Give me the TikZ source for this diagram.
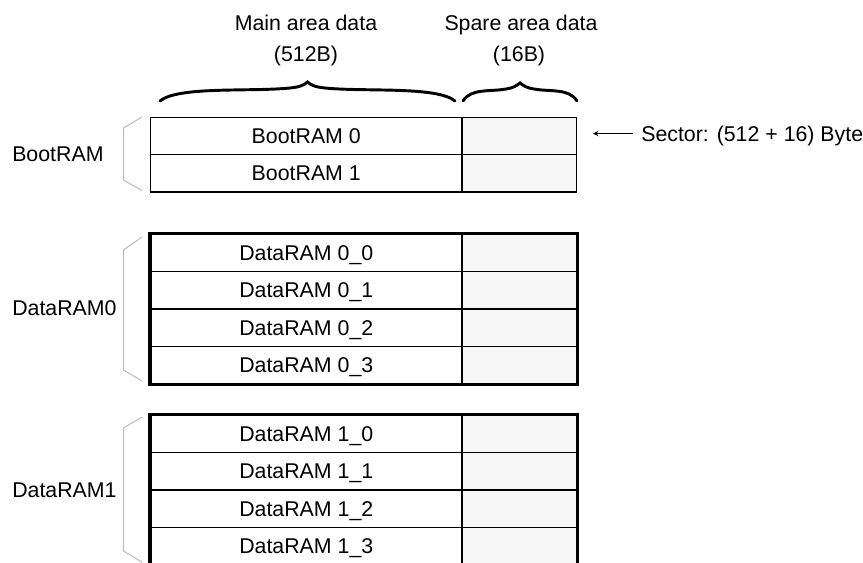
\documentclass[tikz,border=0pt]{standalone}
\usepackage{fontspec}
\setmainfont{Liberation Sans}
\usepackage{tikz}
\usepackage{xcolor}
\definecolor{sparefill}{HTML}{F6F6F6}
\definecolor{bracketgray}{HTML}{BEBEBE}
\tikzset{ecell/.style={draw,line width=0.8pt,inner sep=0pt,anchor=north west,minimum width=233.6pt,minimum height=28.1pt,text height=11.5pt,text depth=0pt}}
\tikzset{espare/.style={ecell,fill=sparefill,minimum width=85.9pt}}
\tikzset{ebank/.style={line width=2.3pt}}
\tikzset{ebracket/.style={bracketgray,line width=0.8pt}}
\tikzset{ebrace/.style={line width=2.2pt,line cap=round}}
\tikzset{elabel/.style={inner sep=0pt,text height=11.5pt,text depth=0pt}}
\tikzset{earrow/.style={->,>=stealth,line width=0.8pt}}

\begin{document}
\begin{tikzpicture}[x=0.75pt,y=-0.75pt,font=\fontsize{16}{19}\selectfont]
            \useasboundingbox (0,0) rectangle (863,562);
            % draw the column titles and braces
            \node[elabel] (maintitle) at (306,23) {Main area data};
            \node[elabel] (mainsize) at (306,54) {(512B)};
            \node[elabel] (sparetitle) at (521,23) {Spare area data};
            \node[elabel] (sparesize) at (519,54) {(16B)};
            \draw[ebrace] (160,101) .. controls (178,86) and (250,92) .. (290,88)
                .. controls (300,87) and (304,85) .. (307.5,82)
                .. controls (311,85) and (315,87) .. (325,88)
                .. controls (365,92) and (437,86) .. (455,101);
            \draw[ebrace] (463,101) .. controls (471,88) and (490,92) .. (506,89)
                .. controls (513,88) and (516,86) .. (520,83)
                .. controls (524,86) and (527,88) .. (534,89)
                .. controls (550,92) and (569,88) .. (577,101);

            % BootRAM sectors
            \node[ecell] (boot0) at (150,116.5) {BootRAM 0};
            \node[espare] (boot0s) at (461.5,116.5) {};
            \node[ecell] (boot1) at (150,154) {BootRAM 1};
            \node[espare] (boot1s) at (461.5,154) {};

            % DataRAM0 sectors
            \node[ecell] (d00) at (150,233.5) {DataRAM 0\_0};
            \node[espare] (d00s) at (461.5,233.5) {};
            \node[ecell] (d01) at (150,271) {DataRAM 0\_1};
            \node[espare] (d01s) at (461.5,271) {};
            \node[ecell] (d02) at (150,308.5) {DataRAM 0\_2};
            \node[espare] (d02s) at (461.5,308.5) {};
            \node[ecell] (d03) at (150,346) {DataRAM 0\_3};
            \node[espare] (d03s) at (461.5,346) {};
            \draw[ebank] (d00.north west) rectangle (d03s.south east);

            % DataRAM1 sectors
            \node[ecell] (d10) at (150,414.5) {DataRAM 1\_0};
            \node[espare] (d10s) at (461.5,414.5) {};
            \node[ecell] (d11) at (150,452) {DataRAM 1\_1};
            \node[espare] (d11s) at (461.5,452) {};
            \node[ecell] (d12) at (150,489.5) {DataRAM 1\_2};
            \node[espare] (d12s) at (461.5,489.5) {};
            \node[ecell] (d13) at (150,527) {DataRAM 1\_3};
            \node[espare] (d13s) at (461.5,527) {};
            \draw[ebank] (d10.north west) rectangle (d13s.south east);

            % group labels with their brackets
            \node[elabel,anchor=west] (bootlbl) at (12,153.5) {BootRAM};
            \node[elabel,anchor=west] (data0lbl) at (12,308) {DataRAM0};
            \node[elabel,anchor=west] (data1lbl) at (12,490) {DataRAM1};
            \draw[ebracket] (142,117) -- (123.5,128) -- (123.5,180) -- (142,190.5);
            \draw[ebracket] (142,237) -- (123.5,250) -- (123.5,370) -- (142,381);
            \draw[ebracket] (142,417) -- (123.5,428) -- (123.5,551) -- (142,562);

            % sector size
            \coordinate (sectortip) at (593,133.5);
            \node[elabel,anchor=west] (sector) at (641,133.5) {Sector: (512 + 16) Byte};
            \draw[earrow] ([xshift=-6pt]sector.west) -- (sectortip);
        \end{tikzpicture}
\end{document}
